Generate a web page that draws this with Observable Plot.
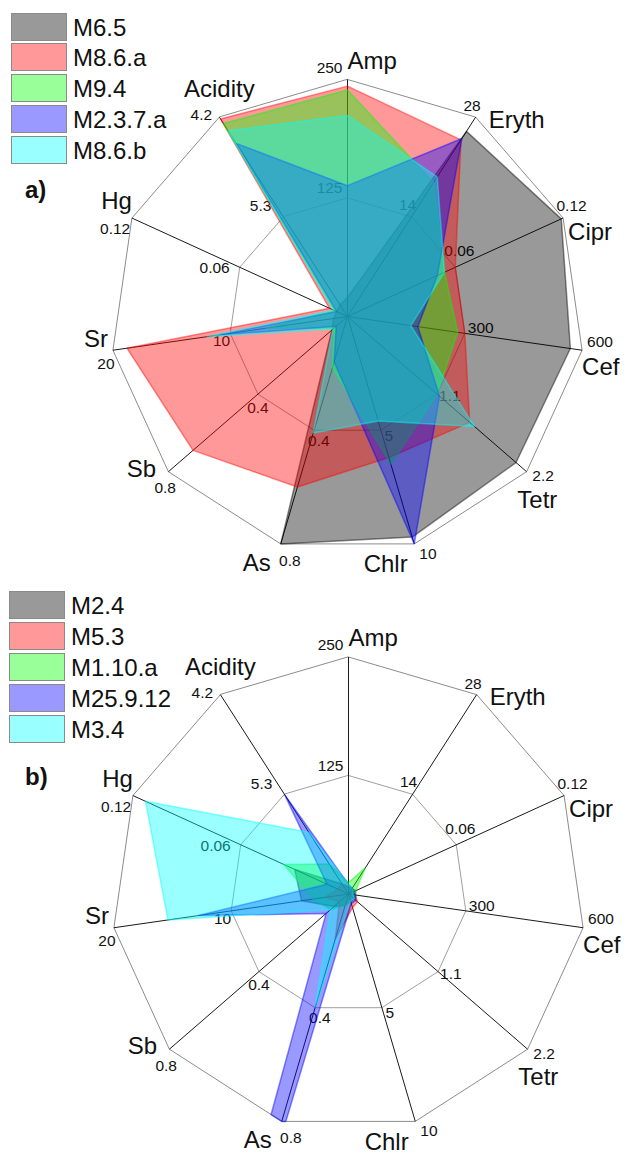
<!DOCTYPE html>
<html>
<head>
<meta charset="utf-8">
<script src="https://cdn.jsdelivr.net/npm/d3@7"></script>
<script src="https://cdn.jsdelivr.net/npm/@observablehq/plot@0.6"></script>
<style>
  html, body { margin: 0; padding: 0; background: #fff; }
  body { width: 624px; font-family: "Liberation Sans", Arial, sans-serif; color: #111; }
  .panel { position: relative; width: 624px; }
  .panel svg { display: block; }
  .legend { position: absolute; left: 0; top: 0; }
  .legend .row { position: absolute; left: 0; height: 28px; white-space: nowrap; }
  .legend .sw { position: absolute; width: 54px; height: 26px; border: 1px solid #8a8a8a; }
  .legend .lb { position: absolute; font-size: 24px; line-height: 24px; color: #111; }
  .tag { position: absolute; font-weight: bold; font-size: 24px; color: #111; }
</style>
</head>
<body>
<div id="panelA" class="panel"></div>
<div id="panelB" class="panel"></div>
<script>
// ---------- data ----------
const axes = ["Amp", "Eryth", "Cipr", "Cef", "Tetr", "Chlr", "As", "Sb", "Sr", "Hg", "Acidity"];
const axisMin = [0, 0, 0, 0, 0, 0, 0, 0, 0, 0, 6.4];
const axisMax = [250, 28, 0.12, 600, 2.2, 10, 0.8, 0.8, 20, 0.12, 4.2];
const midTickLabels = ["125", "14", "0.06", "300", "1.1", "5", "0.4", "0.4", "10", "0.06", "5.3"];
const maxTickLabels = ["250", "28", "0.12", "600", "2.2", "10", "0.8", "0.8", "20", "0.12", "4.2"];

// panel a)
const seriesA = ["M6.5", "M8.6.a", "M9.4", "M2.3.7.a", "M8.6.b"];
const a_M6_5    = [20, 26, 0.119, 570, 2.07, 9.7, 0.8, 0.07, 1.2, 0.006, 6.27];
const a_M8_6_a  = [243, 24.8, 0.06, 300, 1.5, 6.2, 0.6, 0.69, 18.8, 0.01, 4.22];
const a_M9_4    = [239, 18.8, 0.054, 282, 1.1, 6.5, 0.18, 0.06, 7, 0.007, 4.27];
const a_M2_3_7_a = [138, 25, 0.05, 180, 1.13, 10, 0.16, 0.05, 11, 0.006, 4.49];
const a_M8_6_b  = [212, 19.6, 0.054, 162, 1.56, 4.6, 0.41, 0.065, 12, 0.008, 4.35];

// panel b)  (M25.9.12 As lies beyond the 0.8 axis maximum and is clipped at the rim)
const seriesB = ["M2.4", "M5.3", "M1.10.a", "M25.9.12", "M3.4"];
const b_M2_4     = [7.5, 0.8, 0.004, 18, 0.07, 0.3, 0.04, 0.064, 4, 0.03, 6.29];
const b_M5_3     = [7.5, 0.8, 0.0025, 18, 0.11, 0.6, 0.16, 0.04, 2, 0.006, 6.29];
const b_M1_10_a  = [12, 3.7, 0.004, 18, 0.07, 0.3, 0.04, 0.08, 3, 0.036, 6.07];
const b_M25_9_12 = [10, 0.8, 0.0025, 18, 0.09, 0.42, 3.0, 0.1, 12.8, 0.012, 5.3];
const b_M3_4     = [10, 0.8, 0.0025, 12, 0.07, 0.3, 0.4, 0.08, 15.4, 0.113, 5.72];

// ---------- styles / layout ----------
const fillColors = ["#000000", "#ff0000", "#00ff00", "#0000ff", "#00ffff"];
const swatchColors = ["#999999", "#ff9999", "#99ff99", "#9999ff", "#99ffff"];
const R = 237;
// label placements relative to each axis vertex: [anchor, dx, dy]
const nameLayout = [["start",0,-11],["start",13,10.7],["start",5,21.7],["start",0,25],["start",-9.3,36],
  ["end",-6.6,28.4],["end",-10,26.7],["end",-12.3,5],["end",-5,-3.3],["end",0,-9],["middle",0,-20]];
const maxLayout = [["end",-5,-6.6],["end",5,-6],["start",-6.6,-6.6],["start",5,-3.3],["start",5.7,9.3],
  ["start",5,14.7],["start",-1.7,21.7],["start",-14,21.3],["end",1.7,18.3],["end",-1.7,16],["end",-7.3,3]];
const midLayout = [["end",-5,-5],["end",4.6,-7],["start",-11,-11],["start",3,0],["start",2,7],
  ["start",3.6,10.6],["start",-6,15.6],["middle",0,18.7],["end",0,13],["end",-10,6],["end",-12,-5.5]];

const N = axes.length;
const ang = i => 2 * Math.PI * i / N;
const frac = (v, i) => (v - axisMin[i]) / (axisMax[i] - axisMin[i]);
const px = (f, i) => f * Math.sin(ang(i));
const py = (f, i) => f * Math.cos(ang(i));
const rim = axes.map((a, i) => [px(1, i), py(1, i)]);

// clip a polygon to the (convex, clockwise in y-up space) outer rim
function clipToRim(poly) {
  let out = poly;
  for (let k = 0; k < rim.length; k++) {
    const a = rim[k], b = rim[(k + 1) % rim.length];
    const side = p => (b[0] - a[0]) * (p[1] - a[1]) - (b[1] - a[1]) * (p[0] - a[0]);
    const inp = out; out = [];
    for (let j = 0; j < inp.length; j++) {
      const p = inp[j], q = inp[(j + 1) % inp.length];
      const sp = side(p), sq = side(q);
      if (sp <= 0) out.push(p);
      if ((sp <= 0) !== (sq <= 0)) {
        const t = sp / (sp - sq);
        out.push([p[0] + t * (q[0] - p[0]), p[1] + t * (q[1] - p[1])]);
      }
    }
  }
  return out;
}

function radar(el, names, values, cfg) {
  const marks = [];
  for (const level of [0.5, 1]) {
    const ring = axes.map((a, i) => ({x: px(level, i), y: py(level, i)}));
    marks.push(Plot.line(ring, {x: "x", y: "y", curve: "linear-closed",
      stroke: level === 1 ? "#8c8c8c" : "#a0a0a0", strokeWidth: 1}));
  }
  const spokes = axes.map((a, i) => ({a, x: px(1, i), y: py(1, i)}));
  marks.push(Plot.link(spokes, {x1: 0, y1: 0, x2: "x", y2: "y", stroke: "#1a1a1a", strokeWidth: 1}));
  const addLabels = (texts, level, layout, size) => {
    texts.forEach((t, i) => {
      const [anchor, dx, dy] = layout[i];
      marks.push(Plot.text([{t, x: px(level, i), y: py(level, i)}], {
        x: "x", y: "y", text: "t", textAnchor: anchor, lineAnchor: "bottom",
        dx, dy, fontSize: size, fill: "#111", fontFamily: "Liberation Sans, Arial, sans-serif"}));
    });
  };
  addLabels(midTickLabels, 0.5, midLayout, 15.5);
  addLabels(maxTickLabels, 1, maxLayout, 15.5);
  addLabels(axes, 1, nameLayout, 24);
  names.forEach((name, s) => {
    const raw = values[s].map((v, i) => [px(frac(v, i), i), py(frac(v, i), i)]);
    const pts = clipToRim(raw).map(([x, y]) => ({series: name, x, y}));
    marks.push(Plot.line(pts, {x: "x", y: "y", curve: "linear-closed",
      fill: fillColors[s], fillOpacity: 0.4, stroke: fillColors[s], strokeOpacity: 0.45,
      strokeWidth: 1.5, strokeLinejoin: "miter"}));
  });

  const chart = Plot.plot({
    width: 624, height: cfg.height, margin: 0,
    x: {domain: [-1, 1], range: [cfg.cx - R, cfg.cx + R], axis: null},
    y: {domain: [-1, 1], range: [cfg.cy + R, cfg.cy - R], axis: null},
    style: {background: "white", overflow: "visible"},
    marks
  });
  el.style.height = cfg.height + "px";
  el.appendChild(chart);

  const lg = document.createElement("div");
  lg.className = "legend";
  names.forEach((name, s) => {
    const row = document.createElement("div");
    row.className = "row";
    row.style.top = (cfg.legendTop + s * 30.9) + "px";
    const sw = document.createElement("div");
    sw.className = "sw";
    sw.style.left = cfg.legendLeft + "px";
    sw.style.background = swatchColors[s];
    const lb = document.createElement("div");
    lb.className = "lb";
    lb.style.left = (cfg.legendLeft + 62) + "px";
    lb.style.top = "3px";
    lb.textContent = name;
    row.appendChild(sw); row.appendChild(lb);
    lg.appendChild(row);
  });
  el.appendChild(lg);
  const tag = document.createElement("div");
  tag.className = "tag";
  tag.style.left = "25px";
  tag.style.top = cfg.tagTop + "px";
  tag.textContent = cfg.tag;
  el.appendChild(tag);
}

radar(document.getElementById("panelA"), seriesA,
  [a_M6_5, a_M8_6_a, a_M9_4, a_M2_3_7_a, a_M8_6_b],
  {height: 576, cx: 347, cy: 316, legendTop: 12.5, legendLeft: 11, tag: "a)", tagTop: 176});
radar(document.getElementById("panelB"), seriesB,
  [b_M2_4, b_M5_3, b_M1_10_a, b_M25_9_12, b_M3_4],
  {height: 579, cx: 348, cy: 317.5, legendTop: 15, legendLeft: 9, tag: "b)", tagTop: 187});
</script>
</body>
</html>
